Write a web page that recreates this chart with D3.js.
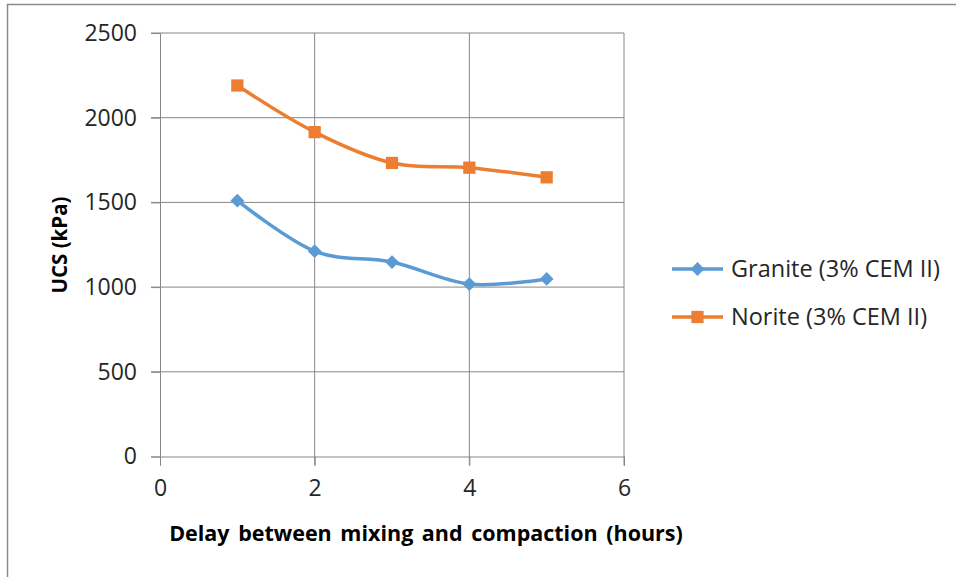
<!DOCTYPE html>
<html>
<head>
<meta charset="utf-8">
<script src="https://cdn.jsdelivr.net/npm/d3@7"></script>
<style>
  body { margin: 0; background: #fff; }
  svg { display: block; font-family: 'Open Sans', sans-serif; }
  .tick text { fill: #262626; font-size: 23px; font-family: 'Open Sans', sans-serif; }
  .gridline { stroke: #868686; stroke-width: 1; }
</style>
</head>
<body>
<div id="chart"></div>
<script>
'use strict';
// chart values
const hours = [1, 2, 3, 4, 5]
const granite = [1510, 1212, 1148, 1018, 1048]
const norite = [2190, 1915, 1733, 1705, 1648]
const seriesNames = ['Granite (3% CEM II)', 'Norite (3% CEM II)']
const xTicks = [0, 2, 4, 6]
const yTicks = [0, 500, 1000, 1500, 2000, 2500]

const blue = '#5B9BD5'
const orange = '#ED7D31'

const W = 956, H = 577
const margin = { top: 33, right: 332, bottom: 120.5, left: 160 }
const width = W - margin.left - margin.right
const height = H - margin.top - margin.bottom

const root = d3.select('#chart').append('svg')
    .attr('width', W)
    .attr('height', H)

root.append('rect') // chart area border (runs off right/bottom)
    .attr('x', 7.5)
    .attr('y', 4.5)
    .attr('width', W + 10)
    .attr('height', H + 10)
    .attr('fill', 'none')
    .attr('stroke', '#8c8c8c')
    .attr('stroke-width', 1.5)

const svg = root.append('g')
    .attr('transform', `translate(${margin.left},${margin.top})`)

const x = d3.scaleLinear().domain([0, 6]).range([0, width])
const y = d3.scaleLinear().domain([0, 2500]).range([height, 0])

svg.append('g') // horizontal gridlines
    .selectAll('line')
    .data(yTicks.filter(d => d > 0)).enter().append('line')
    .attr('class', 'gridline')
    .attr('x1', -9).attr('x2', width)
    .attr('y1', d => y(d)).attr('y2', d => y(d))

svg.append('g') // vertical gridlines
    .selectAll('line')
    .data(xTicks.filter(d => d > 0)).enter().append('line')
    .attr('class', 'gridline')
    .attr('x1', d => x(d)).attr('x2', d => x(d))
    .attr('y1', 0).attr('y2', height + 9)

const yAxis = svg.append('g')
    .call(d3.axisLeft(y).tickValues(yTicks).tickSize(9).tickPadding(14).tickFormat(d3.format('d')))
yAxis.select('.domain').attr('stroke', '#868686')
yAxis.selectAll('.tick line').attr('stroke', '#868686')

const xAxis = svg.append('g')
    .attr('transform', `translate(0,${height})`)
    .call(d3.axisBottom(x).tickValues(xTicks).tickSize(9).tickPadding(14).tickFormat(d3.format('d')))
xAxis.select('.domain').attr('stroke', '#868686')
xAxis.selectAll('.tick line').attr('stroke', '#868686')

const line = d3.line()
    .x(d => x(d[0]))
    .y(d => y(d[1]))
    .curve(d3.curveCatmullRom.alpha(0))

const series = [
    { name: seriesNames[0], color: blue, rotate: 45, size: 95, values: granite },
    { name: seriesNames[1], color: orange, rotate: 0, size: 150, values: norite }
]

series.forEach(s => {
    const pts = hours.map((h, i) => [h, s.values[i]])
    svg.append('path')
        .datum(pts)
        .attr('fill', 'none')
        .attr('stroke', s.color)
        .attr('stroke-width', 3.5)
        .attr('stroke-linejoin', 'round')
        .attr('d', line)
    svg.append('g').selectAll('path')
        .data(pts).enter().append('path')
        .attr('transform', d => `translate(${x(d[0])},${y(d[1])}) rotate(${s.rotate})`)
        .attr('d', d3.symbol().type(d3.symbolSquare).size(s.size))
        .attr('fill', s.color)
})

// legend
const legend = root.append('g')
    .attr('transform', 'translate(672,269)')
series.forEach((s, i) => {
    const g = legend.append('g').attr('transform', `translate(0,${i * 48})`)
    g.append('line')
        .attr('x1', 0).attr('x2', 51)
        .attr('stroke', s.color).attr('stroke-width', 3.5)
    g.append('path')
        .attr('transform', `translate(25.5,0) rotate(${s.rotate})`)
        .attr('d', d3.symbol().type(d3.symbolSquare).size(s.size))
        .attr('fill', s.color)
    g.append('text')
        .attr('x', 59)
        .attr('dy', '0.35em')
        .attr('fill', '#262626')
        .style('font-size', '23.5px')
        .text(s.name)
})

root.append('text') // x axis title
    .attr('x', 426)
    .attr('y', 533)
    .attr('dy', '0.35em')
    .attr('text-anchor', 'middle')
    .attr('fill', '#000')
    .style('font-size', '21.5px')
    .style('font-weight', 'bold')
    .style('word-spacing', '3px')
    .text('Delay between mixing and compaction (hours)')

root.append('text') // y axis title
    .attr('transform', 'translate(60,245) rotate(-90)')
    .attr('dy', '0.35em')
    .attr('text-anchor', 'middle')
    .attr('fill', '#000')
    .style('font-size', '20.5px')
    .style('font-weight', 'bold')
    .text('UCS (kPa)')
</script>
</body>
</html>
